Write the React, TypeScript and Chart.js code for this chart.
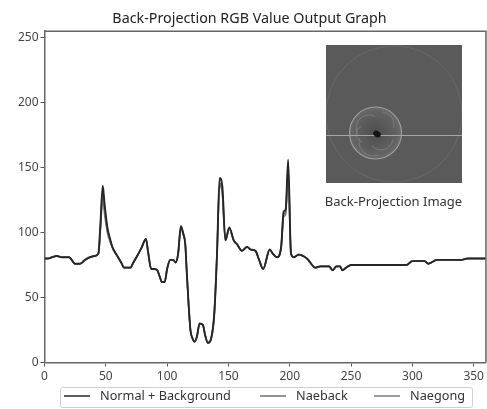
import React, { useEffect, useRef } from "react";
import { Chart, registerables } from "chart.js";

Chart.register(...registerables);

const TITLE = "Back-Projection RGB Value Output Graph";
const CAPTION = "Back-Projection Image";
const SERIES_NAMES = ["Normal + Background", "Naeback", "Naegong"];
const SERIES_COLORS = ["#262626", "#707070", "#7c7c7c"];
const X_TICKS = [0, 50, 100, 150, 200, 250, 300, 350];
const Y_TICKS = [0, 50, 100, 150, 200, 250];

const angles = [0, 3, 6, 10, 14, 20, 25, 29, 33, 37, 41, 44, 45.5, 47.5, 49, 51.3, 53.5, 55.7, 58, 60, 62.5, 65, 70, 72.5, 75, 79, 82.7, 84.5, 87, 89.5, 92, 94, 95.7, 98, 100, 102.5, 105, 107, 109, 111.2, 113, 114.8, 116, 117.5, 119, 120.5, 122.4, 124.3, 126.5, 129.2, 131, 133.3, 135.8, 138.5, 140.7, 142.8, 145, 147.5, 150.7, 154.3, 157, 161, 165.2, 168, 172, 175, 178.3, 183.7, 186, 189.7, 193, 195, 196.7, 198.7, 201, 203.3, 207.3, 214, 221, 225, 232, 235, 238, 241, 243, 246, 250, 260, 275, 295, 300, 310, 313, 320, 330, 340, 345, 360];

const normal = [80, 80, 81, 82, 81, 81, 76, 76, 79, 81, 82, 84, 105, 136, 122, 104, 95, 88, 84, 81, 77, 73, 73, 77, 81, 88, 95, 85, 72, 72, 71, 66, 62, 62, 72, 79, 79, 77, 84, 105, 100, 91, 70, 45, 25, 19, 16, 20, 30, 29, 21, 15, 18, 38, 84, 142, 136, 94, 104, 94, 91, 86, 89, 87, 86, 79, 72, 87, 84, 81, 89, 116, 118, 156, 84, 81, 83, 80, 73, 74, 74, 71, 74, 74, 71, 73, 75, 75, 75, 75, 78, 78, 76, 79, 79, 79, 80, 80];
const naeback = [80, 80, 81, 82, 81, 81, 76, 76, 79, 81, 82, 84, 103, 130, 118, 102, 94, 88, 84, 81, 77, 73, 73, 77, 81, 88, 95, 85, 72, 72, 71, 66, 62, 62, 72, 79, 79, 77, 84, 104, 99, 91, 70, 45, 25, 19, 16, 20, 30, 29, 21, 15, 18, 38, 84, 138, 132, 94, 103, 94, 91, 86, 89, 87, 86, 79, 72, 87, 84, 81, 89, 114, 116, 150, 84, 81, 83, 80, 73, 74, 74, 71, 74, 74, 71, 73, 75, 75, 75, 75, 78, 78, 76, 79, 79, 79, 80, 80];
const naegong = [80, 80, 81, 82, 81, 81, 76, 76, 79, 81, 82, 84, 100, 126, 114, 100, 93, 88, 84, 81, 77, 73, 73, 77, 81, 88, 95, 85, 72, 72, 71, 66, 62, 62, 72, 79, 79, 77, 84, 104, 99, 91, 70, 45, 25, 19, 16, 20, 30, 29, 21, 15, 18, 38, 84, 136, 130, 94, 103, 94, 91, 86, 89, 87, 86, 79, 72, 87, 84, 81, 89, 112, 114, 146, 84, 81, 83, 80, 73, 74, 74, 71, 74, 74, 71, 73, 75, 75, 75, 75, 78, 78, 76, 79, 79, 79, 80, 80];

const pairs = (ys: number[]) => ys.map((y, i) => ({ x: angles[i], y }));
const FONT = "'Noto Sans', 'Open Sans', sans-serif";

const overlay = {
  id: "overlay",
  afterDraw(chart: any) {
    const c = chart.ctx as CanvasRenderingContext2D;
    const a = chart.chartArea;
    c.save();
    // frame on the two sides that have no axis
    c.strokeStyle = "#666";
    c.lineWidth = 1.5;
    c.beginPath();
    c.moveTo(a.left, a.top);
    c.lineTo(a.right, a.top);
    c.lineTo(a.right, a.bottom);
    c.stroke();
    // inset picture
    const L = 326, T = 45, W = 136, H = 138;
    c.fillStyle = "#5a5a5a";
    c.fillRect(L, T, W, H);
    c.beginPath();
    c.rect(L, T, W, H);
    c.clip();
    c.strokeStyle = "#686868";
    c.lineWidth = 1;
    c.beginPath();
    c.arc(394, 114, 68, 0, Math.PI * 2);
    c.stroke();
    const g = c.createRadialGradient(375, 133, 3, 375, 133, 26);
    g.addColorStop(0, "#505050");
    g.addColorStop(0.8, "#626262");
    g.addColorStop(1, "#6c6c6c");
    c.fillStyle = g;
    c.beginPath();
    c.arc(375.5, 133, 26, 0, Math.PI * 2);
    c.fill();
    c.strokeStyle = "#a0a0a0";
    c.lineWidth = 1.1;
    c.stroke();
    c.strokeStyle = "#7c7c7c";
    c.lineWidth = 1;
    [[369, 128, 13, 2.6, 5.2], [381, 138, 12, 0.1, 2.4], [373, 142, 14, 1.2, 3.4], [382, 124, 12, 4.8, 6.6], [364, 134, 8, 1.8, 4.4]].forEach(([x, y, r, s, e]) => {
      c.beginPath();
      c.arc(x, y, r, s, e);
      c.stroke();
    });
    c.strokeStyle = "#a6a6a6";
    c.lineWidth = 1.1;
    c.beginPath();
    c.moveTo(L, 135.5);
    c.lineTo(L + W, 135.5);
    c.stroke();
    c.fillStyle = "#141414";
    c.beginPath();
    c.ellipse(377, 134, 4, 3, 0.6, 0, Math.PI * 2);
    c.fill();
    c.restore();

    c.save();
    c.fillStyle = "#333";
    c.font = `13px ${FONT}`;
    c.textAlign = "center";
    c.textBaseline = "middle";
    c.fillText(CAPTION, 393.5, 202);

    // legend
    c.strokeStyle = "#d0d0d0";
    c.lineWidth = 1;
    c.beginPath();
    c.roundRect(60.5, 387.5, 412, 20, 2);
    c.stroke();
    c.font = `12.7px ${FONT}`;
    c.textAlign = "left";
    const lineX = [64, 260, 374];
    const textX = [100, 296, 410];
    chart.data.datasets.forEach((d: any, i: number) => {
      c.strokeStyle = d.borderColor;
      c.lineWidth = 1.5;
      c.beginPath();
      c.moveTo(lineX[i], 396);
      c.lineTo(lineX[i] + 26, 396);
      c.stroke();
      c.fillStyle = "#333";
      c.fillText(d.label, textX[i], 396);
    });
    c.restore();
  },
};

export default function App() {
  const ref = useRef<HTMLCanvasElement>(null);
  useEffect(() => {
    const chart = new Chart(ref.current!, {
      type: "line",
      plugins: [overlay],
      data: {
        datasets: [normal, naeback, naegong].map((ys, k) => ({
          label: SERIES_NAMES[k],
          data: pairs(ys),
          borderColor: SERIES_COLORS[k],
          borderWidth: k === 0 ? 1.9 : 1.6,
          pointRadius: 0,
          cubicInterpolationMode: "monotone",
          order: k,
        })),
      },
      options: {
        animation: false,
        responsive: false,
        devicePixelRatio: 1,
        layout: { padding: { right: 1, left: 13, top: 0, bottom: 0 } },
        plugins: {
          legend: { display: false },
          tooltip: { enabled: false },
          title: {
            display: true,
            text: TITLE,
            color: "#222",
            font: { family: FONT, size: 14.3, weight: "normal" },
            padding: { top: 10, bottom: 4 },
          },
        },
        scales: {
          x: {
            type: "linear",
            min: 0,
            max: 360,
            afterFit: (s: any) => { s.height = 46.5; },
            afterBuildTicks: (s: any) => { s.ticks = X_TICKS.map((value) => ({ value })); },
            ticks: { autoSkip: false, color: "#444", font: { family: FONT, size: 12 }, maxRotation: 0, padding: 3 },
            grid: { drawOnChartArea: false, tickLength: 4, tickColor: "#555" },
            border: { color: "#666", width: 1.5 },
          },
          y: {
            min: 0,
            max: 255,
            afterFit: (s: any) => { s.width = 31.5; },
            afterBuildTicks: (s: any) => { s.ticks = Y_TICKS.map((value) => ({ value })); },
            ticks: { autoSkip: false, color: "#444", font: { family: FONT, size: 12 }, padding: 2 },
            grid: { drawOnChartArea: false, tickLength: 4, tickColor: "#555" },
            border: { color: "#666", width: 1.5 },
          },
        },
      } as any,
    });
    return () => chart.destroy();
  }, []);
  return (
    <div style={{ position: "absolute", left: 0, top: 0, width: 487, height: 409, background: "#fff" }}>
      <canvas ref={ref} width={487} height={409} style={{ display: "block", filter: "blur(0.35px)" }} />
    </div>
  );
}
